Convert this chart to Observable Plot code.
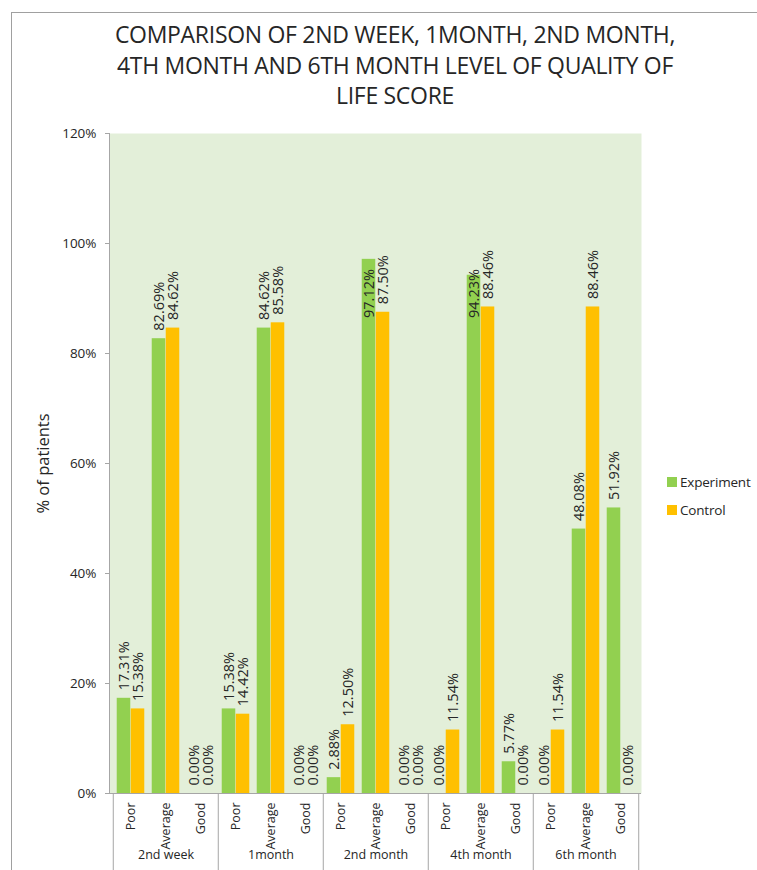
<!DOCTYPE html>
<html>
<head>
<meta charset="utf-8">
<script src="https://cdn.jsdelivr.net/npm/d3@7"></script>
<script src="https://cdn.jsdelivr.net/npm/@observablehq/plot@0.6"></script>
<style>
  html, body { margin: 0; padding: 0; background: #fff; }
  #wrap { position: relative; width: 757px; height: 870px; overflow: hidden; font-family: "Open Sans", "DejaVu Sans", sans-serif; color: #262626; }
  #frame { position: absolute; left: 11px; top: 12px; right: -2px; bottom: -2px; border-left: 1px solid #a0a0a0; border-top: 1px solid #a0a0a0; }
  #chart { position: absolute; left: 0; top: 0; }
  #title { position: absolute; left: 75px; width: 640px; top: 19px; text-align: center; font-size: 23px; line-height: 30.5px; letter-spacing: -0.3px; }
  #legend { position: absolute; left: 667px; top: 468px; font-size: 13.5px; letter-spacing: -0.2px; white-space: nowrap; }
  #legend div { display: flex; align-items: center; height: 28px; }
  #legend span.sw { display: inline-block; width: 10px; height: 10px; margin-right: 3px; }
</style>
</head>
<body>
<div id="wrap">
  <div id="frame"></div>
  <div id="chart"></div>
  <div id="title">COMPARISON OF 2ND WEEK, 1MONTH, 2ND MONTH,<br>4TH MONTH AND 6TH MONTH LEVEL OF QUALITY OF<br>LIFE SCORE</div>
  <div id="legend"></div>
</div>
<script>
// ---- data ----
const groups = ["2nd week", "1month", "2nd month", "4th month", "6th month"];
const levels = ["Poor", "Average", "Good"];
const seriesNames = ["Experiment", "Control"];
const experiment = [17.31, 82.69, 0, 15.38, 84.62, 0, 2.88, 97.12, 0, 0, 94.23, 5.77, 0, 48.08, 51.92];
const control = [15.38, 84.62, 0, 14.42, 85.58, 0, 12.50, 87.50, 0, 11.54, 88.46, 0, 11.54, 88.46, 0];
const yTicks = [0, 20, 40, 60, 80, 100, 120];
const colors = ["#92D050", "#FFC000"];

// ---- build table ----
const keys = [];
groups.forEach(g => levels.forEach(l => keys.push(g + "|" + l)));
const rows = [];
keys.forEach((k, i) => {
  rows.push({key: k, series: "Experiment", value: experiment[i]});
  rows.push({key: k, series: "Control", value: control[i]});
});
const expRows = rows.filter(d => d.series === "Experiment");
const conRows = rows.filter(d => d.series === "Control");

const W = 757, H = 870, mL = 109, mR = 116, mT = 133, mB = 77;
const bw = (W - mL - mR) / keys.length;
const pad = bw * 0.105;
const half = bw / 2;
const barW = half - pad;
const gray = "#a6a6a6";
const txt = "#262626";
const fmt = v => v.toFixed(2) + "%";
const labelY = d => d.value > 90 ? 85 : d.value;

const chart = Plot.plot({
  width: W, height: H,
  marginLeft: mL, marginRight: mR, marginTop: mT, marginBottom: mB,
  style: {background: "transparent", fontFamily: "'Open Sans', sans-serif", color: txt},
  x: {domain: keys, padding: 0, axis: null},
  y: {domain: [0, 120], axis: null},
  color: {domain: seriesNames, range: colors},
  marks: [
    Plot.frame({fill: "#E3EFD9", stroke: null}),
    Plot.barY(expRows, {x: "key", y: "value", fill: colors[0], insetLeft: pad, insetRight: half}),
    Plot.barY(conRows, {x: "key", y: "value", fill: colors[1], insetLeft: half, insetRight: pad}),
    Plot.ruleY([0], {stroke: gray, strokeWidth: 1}),
    Plot.frame({anchor: "left", stroke: gray}),
    Plot.axisY({ticks: yTicks, tickFormat: d => d + "%", tickSize: 4, tickPadding: 9, stroke: gray, fill: txt, fontSize: 13.5, label: null}),
    Plot.text(["% of patients"], {frameAnchor: "left", textAnchor: "middle", dx: -66, rotate: -90, fontSize: 16.5, fill: txt}),
    Plot.axisX({tickFormat: k => k.split("|")[1], tickRotate: -90, tickSize: 0, tickPadding: 9, fontSize: 12.5, fill: txt, label: null}),
    Plot.axisX({ticks: keys.filter(k => k.endsWith("|Poor")), tickSize: mB, tickFormat: () => "", dx: -half, stroke: gray, label: null}),
    Plot.axisX({ticks: [keys[keys.length - 1]], tickSize: mB, tickFormat: () => "", dx: half, stroke: gray, label: null}),
    Plot.text(groups, {x: g => g + "|Average", frameAnchor: "bottom", dy: 65, fontSize: 12.5, fill: txt}),
    Plot.text(expRows, {x: "key", y: labelY, text: d => fmt(d.value), rotate: -90, textAnchor: "start", dx: -barW / 2, dy: -8, fontSize: 14.5, fill: txt}),
    Plot.text(conRows, {x: "key", y: labelY, text: d => fmt(d.value), rotate: -90, textAnchor: "start", dx: barW / 2, dy: -8, fontSize: 14.5, fill: txt})
  ]
});
document.getElementById("chart").appendChild(chart);

// legend
const leg = document.getElementById("legend");
seriesNames.forEach((s, i) => {
  const row = document.createElement("div");
  row.innerHTML = `<span class="sw" style="background:${colors[i]}"></span>${s}`;
  leg.appendChild(row);
});
</script>
</body>
</html>
